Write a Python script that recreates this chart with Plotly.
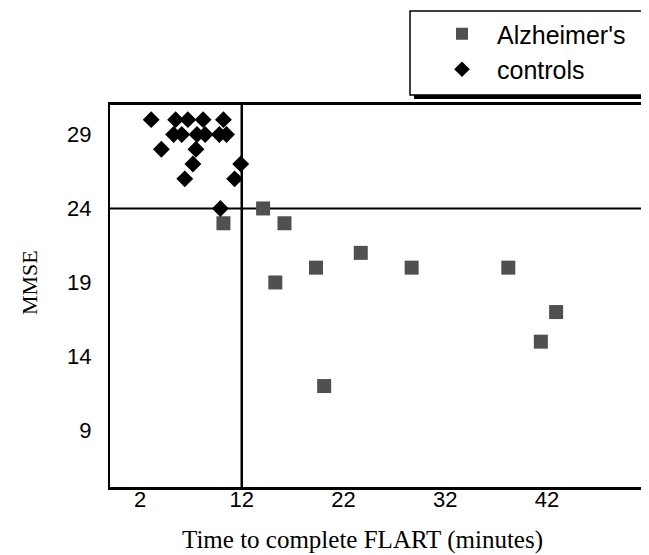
import plotly.graph_objects as go

# Alzheimer's patients: (time to complete FLART in minutes, MMSE)
alz_time = [10.2, 14.1, 16.2, 15.3, 19.3, 20.1, 23.7, 28.7, 38.2, 41.4, 42.9]
alz_mmse = [23, 24, 23, 19, 20, 12, 21, 20, 20, 15, 17]

# Controls
ctl_time = [3.1, 5.5, 6.7, 8.2, 10.2,
            5.3, 6.1, 7.6, 8.4, 9.8, 10.5,
            4.1, 7.5,
            7.2, 11.9,
            6.4, 11.3,
            9.9]
ctl_mmse = [30, 30, 30, 30, 30,
            29, 29, 29, 29, 29, 29,
            28, 28,
            27, 27,
            26, 26,
            24]

x_ticks = [2, 12, 22, 32, 42]
y_ticks = [9, 14, 19, 24, 29]
time_cutoff = 12
mmse_cutoff = 24

# page body has an 8px margin: work in figure pixels = screen pixels - 8
OFF = 8
W, H = 649 - OFF, 555 - OFF
L, R, T = 110 - OFF, 0, 105 - OFF
B = H - (487 - OFF)
pw, ph = W - L - R, H - T - B


def px(xs):
    return (xs - OFF - L) / pw


def py(ys):
    return (H - B - (ys - OFF)) / ph


fig = go.Figure()
fig.add_trace(go.Scatter(
    x=alz_time, y=alz_mmse, mode="markers", name="Alzheimer's",
    legendgroup="a",
    marker=dict(symbol="square", size=14, color="#505050", line=dict(width=0)),
))
fig.add_trace(go.Scatter(
    x=ctl_time, y=ctl_mmse, mode="markers", name="controls",
    legendgroup="c",
    marker=dict(symbol="diamond", size=13, color="black", line=dict(width=0)),
))

fig.add_hline(y=mmse_cutoff, line=dict(color="black", width=2), layer="below")
fig.add_vline(x=time_cutoff, line=dict(color="black", width=2.5), layer="below")

# legend box with drop shadow
fig.add_shape(type="rect", xref="paper", yref="paper",
              x0=px(414), x1=px(646), y0=py(99), y1=py(15),
              fillcolor="black", line=dict(width=0), layer="above")
fig.add_shape(type="rect", xref="paper", yref="paper",
              x0=px(410), x1=px(642), y0=py(95), y1=py(11),
              fillcolor="white", line=dict(color="black", width=1.5), layer="above")

fig.update_layout(
    width=W, height=H,
    margin=dict(l=L, r=R, t=T, b=B, pad=0),
    paper_bgcolor="white", plot_bgcolor="white",
    showlegend=True,
    legend=dict(
        x=px(427), y=py(11), xanchor="left", yanchor="top",
        bgcolor="rgba(0,0,0,0)", borderwidth=0,
        font=dict(family="Liberation Sans, Arial", size=25, color="black"),
        tracegroupgap=0, itemsizing="constant", itemwidth=60,
    ),
    xaxis=dict(
        range=[-0.95, 52.03], tickvals=x_ticks, ticktext=[str(v) for v in x_ticks],
        showgrid=False, zeroline=False, showline=True, linecolor="black",
        linewidth=3, mirror=True, ticks="", ticklen=0, ticklabelstandoff=-9,
        tickfont=dict(family="Liberation Sans, Arial", size=22, color="black"),
    ),
    yaxis=dict(
        range=[5.18, 30.99], tickvals=y_ticks, ticktext=[str(v) for v in y_ticks],
        showgrid=False, zeroline=False, showline=True, linecolor="black",
        linewidth=2, mirror=False, ticks="", ticklen=0, ticklabelstandoff=12,
        tickfont=dict(family="Liberation Sans, Arial", size=22, color="black"),
    ),
    annotations=[
        dict(text="Time to complete FLART (minutes)", xref="paper", yref="paper",
             x=px(362), y=py(540), xanchor="center", yanchor="middle",
             showarrow=False,
             font=dict(family="Liberation Serif, Times New Roman", size=25, color="black")),
        dict(text="MMSE", xref="paper", yref="paper",
             x=px(29), y=py(283), xanchor="center", yanchor="middle",
             textangle=-90, showarrow=False,
             font=dict(family="Liberation Serif, Times New Roman", size=22, color="black")),
    ],
)

fig.write_html("out.html")
